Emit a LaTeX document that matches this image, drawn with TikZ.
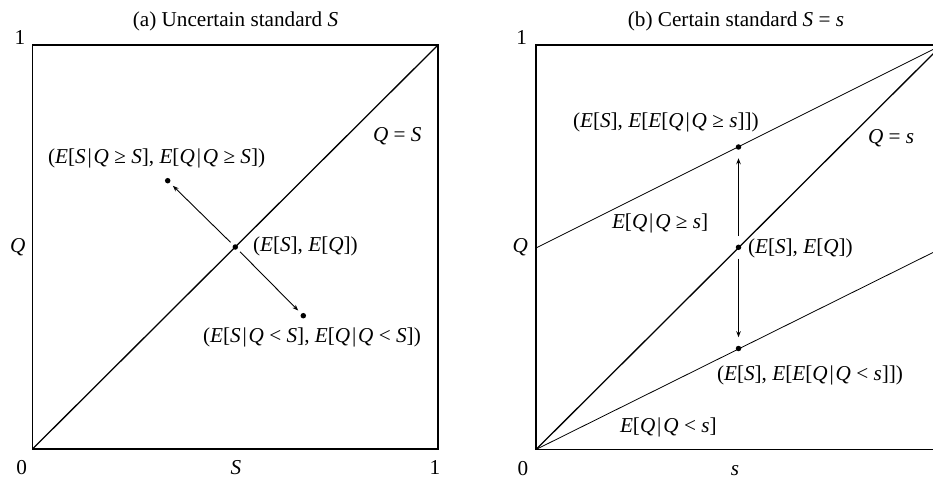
\documentclass[tikz,border=0pt]{standalone}
\usepackage{fontspec}
\setmainfont{Liberation Serif}
\usetikzlibrary{arrows.meta}
\newcommand{\mv}[1]{\textit{#1}}
\newcommand{\gvn}{\kern0.09em|\kern0.09em}
\begin{document}
\begin{tikzpicture}[x=1pt,y=-1pt,
  every node/.style={font=\fontsize{21.2}{25}\selectfont, inner sep=0pt, outer sep=0pt},
  lbl/.style={anchor=base west},
  clbl/.style={anchor=base},
  dot/.style={circle, fill=black, inner sep=0pt, minimum size=5.5pt},
  frame/.style={line width=1.8pt},
  diag/.style={line width=1.3pt},
  thinline/.style={line width=0.8pt},
  arr/.style={line width=0.9pt, -{Stealth[length=6pt,width=4.5pt]}},
]
\useasboundingbox (0,0) rectangle (933,481);
\clip (0,0) rectangle (933,481);

% ---------- panel (a) ----------
\coordinate (A0) at (32.5,449);
\coordinate (A1) at (438,45);
\draw[frame] (A0) rectangle (A1);
\draw[diag] (A0) -- (A1);
\node[dot] (ac) at (235.3,247) {};
\node[dot] (aul) at (167.7,180.7) {};
\node[dot] (alr) at (303.3,315.7) {};
\draw[arr, shorten <=4pt, shorten >=4.5pt] (ac) -- (aul);
\draw[arr, shorten <=4pt, shorten >=4.5pt] (ac) -- (alr);

\node[clbl] (ta) at (235.5,26.7) {(a) Uncertain standard \mv{S}};
\node[clbl] (aone) at (20,45) {1};
\node[clbl] (azero) at (21.7,474) {0};
\node[clbl] (aS) at (236,474) {\mv{S}};
\node[clbl] (aonex) at (435,474) {1};
\node[lbl] (aQ) at (10,252) {\mv{Q}};
\node[lbl] (aQS) at (373,142) {\mv{Q} = \mv{S}};
\node[lbl] (acl) at (253,251.5) {(\mv{E}[\mv{S}], \mv{E}[\mv{Q}])};
\node[lbl] (aull) at (48,164) {(\mv{E}[\mv{S}\gvn\mv{Q} ≥ \mv{S}], \mv{E}[\mv{Q}\gvn\mv{Q} ≥ \mv{S}])};
\node[lbl] (alrl) at (203,342.5) {(\mv{E}[\mv{S}\gvn\mv{Q} < \mv{S}], \mv{E}[\mv{Q}\gvn\mv{Q} < \mv{S}])};

% ---------- panel (b) ----------
\coordinate (B0) at (536,449.5);
\coordinate (B1) at (942,45);
\coordinate (BL) at (536,248);
\coordinate (BR) at (942,248);
\draw[frame] (B0) rectangle (B1);
\draw[diag] (B0) -- (B1);
\draw[thinline] (BL) -- (B1);
\draw[thinline] (B0) -- (BR);
\node[dot] (bc) at (738.5,247.3) {};
\node[dot] (bu) at (738.5,147) {};
\node[dot] (bl) at (738.5,348.5) {};
\draw[arr, shorten <=8.5pt, shorten >=8.5pt] (bc) -- (bu);
\draw[arr, shorten <=8.5pt, shorten >=8.5pt] (bc) -- (bl);

\node[clbl] (tb) at (736,26.7) {(b) Certain standard \mv{S} = \mv{s}};
\node[clbl] (bone) at (521.7,45) {1};
\node[clbl] (bzero) at (523,475.5) {0};
\node[clbl] (bs) at (735,475.5) {\mv{s}};
\node[lbl] (bQ) at (512.7,252) {\mv{Q}};
\node[lbl] (bQs) at (868,144) {\mv{Q} = \mv{s}};
\node[lbl] (bcl) at (748,253) {(\mv{E}[\mv{S}], \mv{E}[\mv{Q}])};
\node[lbl] (bul) at (573,128) {(\mv{E}[\mv{S}], \mv{E}[\mv{E}[\mv{Q}\gvn\mv{Q} ≥ \mv{s}]])};
\node[lbl] (bll) at (717,380) {(\mv{E}[\mv{S}], \mv{E}[\mv{E}[\mv{Q}\gvn\mv{Q} < \mv{s}]])};
\node[lbl] (bup) at (612,228) {\mv{E}[\mv{Q}\gvn\mv{Q} ≥ \mv{s}]};
\node[lbl] (blo) at (620,432) {\mv{E}[\mv{Q}\gvn\mv{Q} < \mv{s}]};
\end{tikzpicture}
\end{document}
